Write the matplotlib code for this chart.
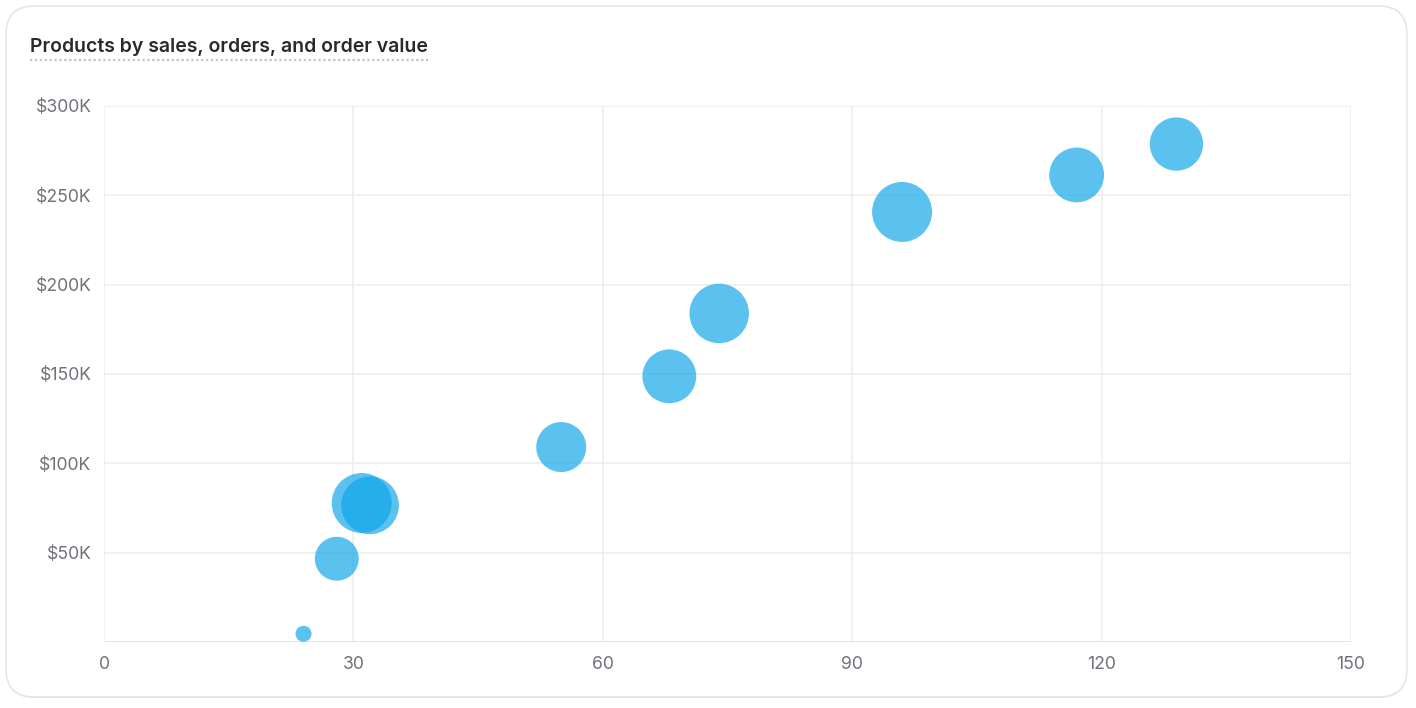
import matplotlib
matplotlib.use("Agg")
import matplotlib.pyplot as plt
from matplotlib.patches import FancyBboxPatch
from matplotlib.lines import Line2D
import numpy as np

# data
orders = [24, 28, 31, 32, 55, 68, 74, 96, 117, 129]
sales = [4600, 46600, 77800, 76500, 109100, 148700, 183900, 240700, 261400, 278700]
order_value = [192, 1664, 2510, 2390, 1984, 2187, 2485, 2507, 2234, 2160]

x_ticks = [0, 30, 60, 90, 120, 150]
y_ticks = [0, 50000, 100000, 150000, 200000, 250000, 300000]
y_labels = ["", "$50K", "$100K", "$150K", "$200K", "$250K", "$300K"]

title = "Products by sales, orders, and order value"

plt.rcParams["font.family"] = ["Inter", "DejaVu Sans"]

W, H, DPI = 1416, 708, 100
fig = plt.figure(figsize=(W / DPI, H / DPI), dpi=DPI)
fig.patch.set_facecolor("white")

# card with a faint drop shadow
shadow = FancyBboxPatch((6 / W, 10 / H), 1401 / W, 691 / H,
                        boxstyle="round,pad=0,rounding_size=0.02",
                        transform=fig.transFigure, facecolor="#e6e6e8",
                        edgecolor="none", zorder=-11, mutation_aspect=W / H)
card = FancyBboxPatch((6 / W, 11 / H), 1401 / W, 691 / H,
                      boxstyle="round,pad=0,rounding_size=0.02",
                      transform=fig.transFigure, facecolor="white",
                      edgecolor="#e4e4e7", linewidth=1.1, zorder=-10,
                      mutation_aspect=W / H)
fig.add_artist(shadow)
fig.add_artist(card)

ax = fig.add_axes([104 / W, 66 / H, 1247 / W, 536 / H])
ax.set_zorder(2)
ax.set_facecolor("none")

# bubble radius scales linearly with order value (8px .. 30px)
ov = np.array(order_value, dtype=float)
r_px = 8 + 22 * (ov - ov.min()) / (ov.max() - ov.min())
sizes = (2 * r_px * 72 / DPI) ** 2

ax.scatter(orders, sales, s=sizes, color="#0ea5e9", alpha=0.68,
           linewidths=0, zorder=3)

ax.set_xlim(0, 150)
ax.set_ylim(0, 300000)
ax.set_xticks(x_ticks)
ax.set_xticklabels([str(v) for v in x_ticks])
ax.set_yticks(y_ticks)
ax.set_yticklabels(y_labels)

ax.grid(True, color="#ececee", linewidth=1.1, zorder=0)
ax.set_axisbelow(True)
for s in ax.spines.values():
    s.set_visible(False)
ax.axhline(0, color="#e2e2e5", linewidth=1.3, zorder=1)
ax.tick_params(length=0, labelsize=12.7, labelcolor="#71717a", pad=9)
ax.tick_params(axis="x", pad=10)

t = fig.text(30 / W, 1 - 47 / H, title, fontsize=14, fontweight="semibold",
             color="#2a2a2e", va="center", ha="left")

fig.canvas.draw()
bb = t.get_window_extent()
fig.add_artist(Line2D([bb.x0 / W, bb.x1 / W], [1 - 59.5 / H, 1 - 59.5 / H],
                      transform=fig.transFigure, color="#c4c4c8",
                      linewidth=1.6, linestyle=(0, (1, 1.2))))

fig.savefig("out.png", dpi=DPI, facecolor="white")
